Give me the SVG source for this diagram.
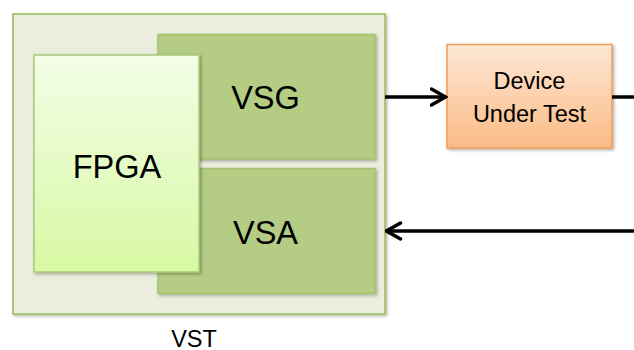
<svg xmlns="http://www.w3.org/2000/svg" width="634" height="350" viewBox="0 0 634 350">
<defs>
<style>
text{font-family:"Liberation Sans",Arial,sans-serif;fill:#000;text-anchor:middle}
.big{font-size:32.5px}
.mid{font-size:23.5px}
.conn{stroke:#000;stroke-width:3.5;fill:none}
</style>
<linearGradient id="gF" x1="0" y1="0" x2="0" y2="1"><stop offset="0" stop-color="#f3fde7"/><stop offset="1" stop-color="#d7f9a3"/></linearGradient>
<linearGradient id="gD" x1="0" y1="0" x2="0" y2="1"><stop offset="0" stop-color="#fde7d5"/><stop offset="1" stop-color="#fbbb86"/></linearGradient>
<filter id="sh" x="-10%" y="-10%" width="130%" height="130%"><feDropShadow dx="1.5" dy="1.5" stdDeviation="1.5" flood-color="#000" flood-opacity="0.3"/></filter>
<marker id="ah" viewBox="0 0 18 20" refX="16.5" refY="10" markerWidth="18" markerHeight="20" markerUnits="userSpaceOnUse" orient="auto"><path d="M2,2 L16,10 L2,18" fill="none" stroke="#000" stroke-width="3.5" stroke-linecap="round" stroke-linejoin="miter"/></marker>
</defs>
<g id="vst"><rect x="13" y="14" width="372" height="300" fill="#ebeedd" stroke="#9bbb59" stroke-width="1.5" filter="url(#sh)"/><text class="mid" x="194" y="346.5">VST</text></g>
<g id="vsg"><rect x="158" y="34.5" width="217" height="124.5" fill="#b4cc84" stroke="#a3c26c" stroke-width="1.5" filter="url(#sh)"/><text class="big" x="265.5" y="109">VSG</text></g>
<g id="vsa"><rect x="158" y="168.5" width="217" height="125" fill="#b4cc84" stroke="#a3c26c" stroke-width="1.5" filter="url(#sh)"/><text class="big" x="265.5" y="244">VSA</text></g>
<g id="fpga"><rect x="34" y="55" width="165" height="217" fill="url(#gF)" stroke="#a8c878" stroke-width="1.5" filter="url(#sh)"/><text class="big" x="117" y="177.5">FPGA</text></g>
<g id="dut"><rect x="447" y="44.5" width="165" height="103.5" fill="url(#gD)" stroke="#f59a52" stroke-width="1.5" filter="url(#sh)"/><text class="mid" x="529.5" y="88.5">Device</text><text class="mid" x="529.5" y="121.5">Under Test</text></g>
<g id="connectors">
<line class="conn" x1="385" y1="97" x2="446" y2="97" marker-end="url(#ah)"/>
<line class="conn" x1="612" y1="97" x2="634" y2="97"/>
<line class="conn" x1="634" y1="231" x2="386" y2="231" marker-end="url(#ah)"/>
</g>
</svg>
